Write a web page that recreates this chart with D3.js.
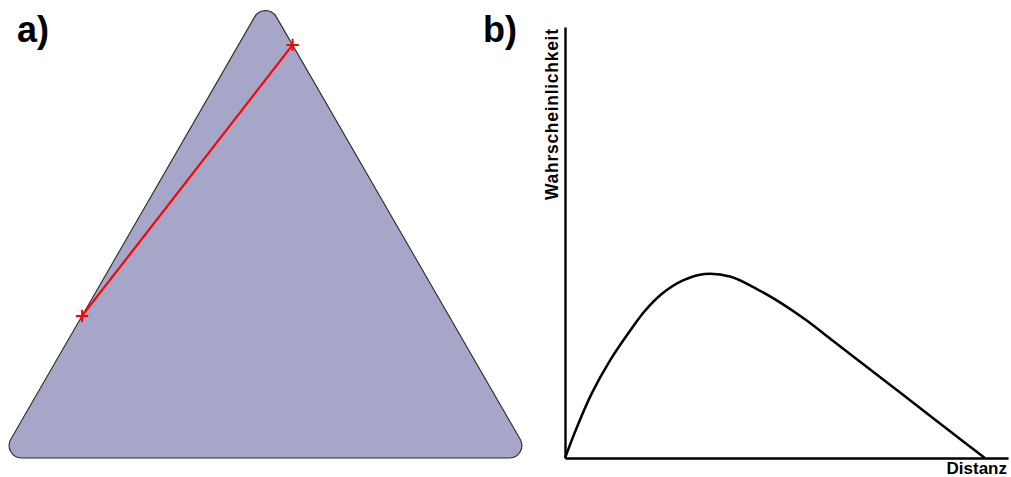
<!DOCTYPE html>
<html>
<head>
<meta charset="utf-8">
<script src="https://cdn.jsdelivr.net/npm/d3@7/dist/d3.min.js"></script>
<style>
  html, body { margin: 0; padding: 0; background: #fff; }
  svg { display: block; }
  text { font-family: "Liberation Sans", Arial, sans-serif; font-weight: bold; fill: #000; }
</style>
</head>
<body>
<svg id="chart" width="1011" height="477"></svg>
<script>
// Panel a: equilateral triangle (unit side) and a chord across it
const triangleVertices = [[0, 0], [1, 0], [0.5, Math.sqrt(3) / 2]];
const chordPoints = [[0.1545, 0.2676], [0.551, 0.778]];

// Panel b: chord-length distribution (distance vs. probability)
const distanz = [0, 0.0286, 0.0643, 0.107, 0.160, 0.190, 0.231, 0.281, 0.333, 0.393,
                 0.457, 0.512, 0.574, 0.638, 0.719, 0.798, 0.876, 0.957, 1.0];
const wahrscheinlichkeit = [0, 0.072, 0.151, 0.226, 0.302, 0.341, 0.381, 0.412, 0.427, 0.421,
                            0.392, 0.361, 0.320, 0.272, 0.211, 0.152, 0.093, 0.032, 0];

const panelLabels = ["a)", "b)"];
const xAxisLabel = "Distanz";
const yAxisLabel = "Wahrscheinlichkeit";

const svg = d3.select("#chart");

// ---------- panel a ----------
const xA = d3.scaleLinear().domain([0, 1]).range([0, 531]);
const yA = d3.scaleLinear().domain([0, 1]).range([458, 458 - 531]);

const cornerRadius = 12.5;
const pts = triangleVertices.map(([x, y]) => [xA(x), yA(y)]);
const tri = d3.path();
const mid = [(pts[0][0] + pts[1][0]) / 2, (pts[0][1] + pts[1][1]) / 2];
tri.moveTo(mid[0], mid[1]);
for (let i = 0; i < 3; i++) {
  const p = pts[(i + 1) % 3];
  const q = pts[(i + 2) % 3];
  tri.arcTo(p[0], p[1], q[0], q[1], cornerRadius);
}
tri.closePath();

svg.append("path")
  .attr("d", tri.toString())
  .attr("fill", "#a6a7c8")
  .attr("stroke", "#2b2b2b")
  .attr("stroke-width", 1.1);

const chordLine = d3.line().x(d => xA(d[0])).y(d => yA(d[1]));
svg.append("path")
  .attr("d", chordLine(chordPoints))
  .attr("fill", "none")
  .attr("stroke", "#ff0000")
  .attr("stroke-width", 2.2);

// plus-shaped markers at the chord ends
svg.selectAll(".endpoint")
  .data(chordPoints)
  .join("path")
  .attr("class", "endpoint")
  .attr("transform", d => `translate(${xA(d[0])},${yA(d[1])})`)
  .attr("d", () => {
    const h = 6.2;
    return `M${-h},0H${h}M0,${-h}V${h}`;
  })
  .attr("stroke", "#ff0000")
  .attr("stroke-width", 2)
  .attr("fill", "none");

// ---------- panel b ----------
const xB = d3.scaleLinear().domain([0, 1.055]).range([565, 1008]);
const yB = d3.scaleLinear().domain([0, 1]).range([458, 27]);

svg.append("g")
  .attr("transform", `translate(0,${yB(0)})`)
  .call(d3.axisBottom(xB).ticks(0).tickSizeOuter(0))
  .call(g => g.select(".domain").attr("stroke", "#000").attr("stroke-width", 2.4));

svg.append("g")
  .attr("transform", `translate(${xB(0)},0)`)
  .call(d3.axisLeft(yB).ticks(0).tickSizeOuter(0))
  .call(g => g.select(".domain").attr("stroke", "#000").attr("stroke-width", 2.4));

const curve = d3.line()
  .x((d, i) => xB(distanz[i]))
  .y(d => yB(d))
  .curve(d3.curveCatmullRom.alpha(0.5));

svg.append("path")
  .attr("d", curve(wahrscheinlichkeit))
  .attr("fill", "none")
  .attr("stroke", "#000")
  .attr("stroke-width", 2.5)
  .attr("stroke-linejoin", "round");

// ---------- labels ----------
svg.append("text")
  .attr("x", 17).attr("y", 42)
  .attr("font-size", 36)
  .text(panelLabels[0]);

svg.append("text")
  .attr("x", 483).attr("y", 42)
  .attr("font-size", 36)
  .text(panelLabels[1]);

svg.append("text")
  .attr("x", 1007).attr("y", 474)
  .attr("text-anchor", "end")
  .attr("font-size", 17)
  .text(xAxisLabel);

svg.append("text")
  .attr("transform", "translate(558,200) rotate(-90)")
  .attr("font-size", 17.5)
  .attr("textLength", 171)
  .attr("lengthAdjust", "spacing")
  .text(yAxisLabel);
</script>
</body>
</html>
